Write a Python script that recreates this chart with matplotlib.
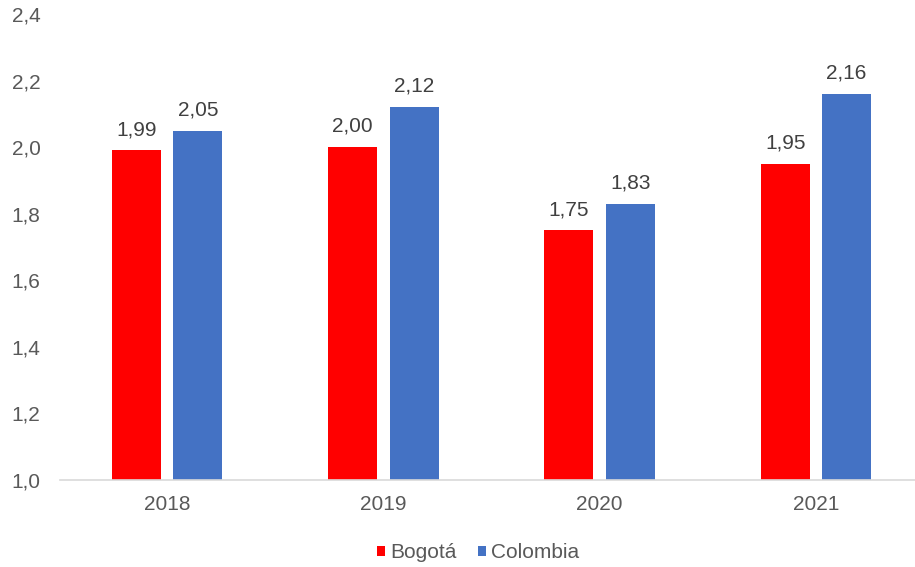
import matplotlib
matplotlib.use("Agg")
import matplotlib.pyplot as plt
import numpy as np

years = ["2018", "2019", "2020", "2021"]
bogota = [1.99, 2.00, 1.75, 1.95]
colombia = [2.05, 2.12, 1.83, 2.16]
y_ticks = [1.0, 1.2, 1.4, 1.6, 1.8, 2.0, 2.2, 2.4]

plt.rcParams['font.family'] = ['Liberation Sans', 'DejaVu Sans']

fig = plt.figure(figsize=(9.15, 5.67), dpi=100)
ax = fig.add_axes([60 / 915, (567 - 480) / 567, 855 / 915, 466 / 567])

x = np.arange(len(years))
w = 0.227
off = 0.142
b1 = ax.bar(x - off, [v - 1.0 for v in bogota], w, bottom=1.0, color="#ff0000", label="Bogotá")
b2 = ax.bar(x + off, [v - 1.0 for v in colombia], w, bottom=1.0, color="#4472c4", label="Colombia")

# etiquetas de datos con coma decimal
for xs, vals in ((x - off, bogota), (x + off, colombia)):
    for xi, v in zip(xs, vals):
        ax.annotate(f"{v:.2f}".replace(".", ","), (xi, v), xytext=(0, 11),
                    textcoords="offset points", ha="center", va="baseline",
                    fontsize=15, color="#404040")

ax.set_xlim(-0.495, 3.458)
ax.set_ylim(1.0, 2.4)
ax.set_yticks(y_ticks)
ax.set_yticklabels([f"{t:.1f}".replace(".", ",") for t in y_ticks])
ax.set_xticks(x)
ax.set_xticklabels(years)
ax.tick_params(axis="both", length=0, labelsize=15, labelcolor="#595959")
ax.tick_params(axis="x", pad=11)
ax.tick_params(axis="y", pad=14)
for s in ("top", "right", "left"):
    ax.spines[s].set_visible(False)
ax.spines["bottom"].set_color("#d9d9d9")
ax.spines["bottom"].set_linewidth(1.2)

fig.legend(handles=[b1, b2], loc="center", bbox_to_anchor=(478 / 915, 1 - 553 / 567),
           ncol=2, frameon=False, fontsize=15, labelcolor="#595959",
           handlelength=0.4, handleheight=0.4, handletextpad=0.25, columnspacing=1.0)

fig.savefig("out.png", dpi=100)
